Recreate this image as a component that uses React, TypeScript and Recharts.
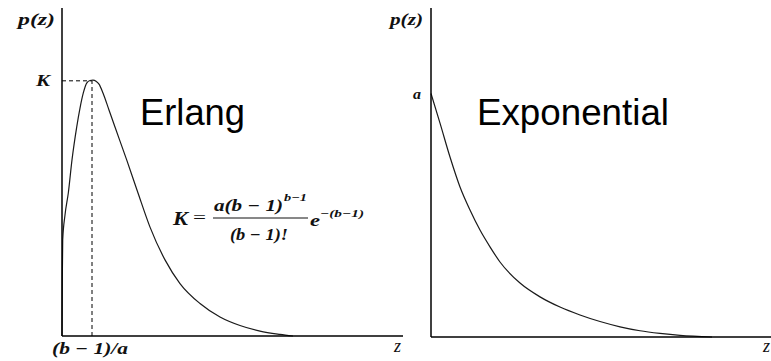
import { LineChart, Line, XAxis, YAxis, ReferenceLine } from 'recharts'

// Erlang curve (z in axis units 0..10, p in 0..1)
const erlangZ = [0, 0.009, 0.021, 0.088, 0.185, 0.293, 0.431, 0.528, 0.625, 0.724, 0.821, 0.909, 0.997, 1.085, 1.202, 1.378, 1.554, 1.897, 2.229, 2.581, 3.021, 3.460, 4.047, 4.633, 5.220, 5.806, 6.393, 6.774]
const erlangP = [0, 0.177, 0.293, 0.369, 0.436, 0.537, 0.637, 0.695, 0.741, 0.771, 0.779, 0.780, 0.777, 0.768, 0.741, 0.689, 0.637, 0.537, 0.436, 0.332, 0.232, 0.160, 0.099, 0.058, 0.032, 0.015, 0.005, 0]

// Exponential curve
const expoZ = [0, 0.265, 0.559, 0.853, 1.147, 1.441, 1.735, 2.029, 2.618, 3.206, 3.794, 4.382, 4.971, 5.559, 6.147, 6.735, 7.324, 8.265]
const expoP = [0.74, 0.650, 0.547, 0.456, 0.386, 0.325, 0.274, 0.228, 0.164, 0.122, 0.091, 0.067, 0.047, 0.031, 0.019, 0.011, 0.005, 0]

// marked levels
const K_LEVEL = 0.778
const PEAK_Z = 0.88
const A_LEVEL = 0.74

const erlangData = erlangZ.map((z, i) => ({ z, p: erlangP[i] }))
const expoData = expoZ.map((z, i) => ({ z, p: expoP[i] }))

const MATH = '"Liberation Serif", "DejaVu Serif", serif'
const SANS = '"Liberation Sans", Arial, sans-serif'
const AXIS = { stroke: '#000', strokeWidth: 1.5 }

function MathTick({ x, y, payload, label, anchor, size, width, dx = 0, dy }: any) {
  return (
    <text
      x={x + dx}
      y={y}
      dy={dy}
      textAnchor={anchor}
      fontFamily={MATH}
      fontStyle="italic"
      fontWeight="bold"
      fontSize={size}
      fill="#111"
      textLength={width}
      lengthAdjust="spacingAndGlyphs"
    >
      {label ?? payload.value}
    </text>
  )
}

export default function App() {
  return (
    <div style={{ position: 'absolute', left: 0, top: 0, width: 771, height: 361, background: '#fff' }}>

      {/* Erlang panel */}
      <div style={{ position: 'absolute', left: 0, top: 0 }}>
        <LineChart width={420} height={361} data={erlangData} margin={{ top: 8, right: 17, left: 61, bottom: 24 }}>
          <XAxis
            type="number"
            dataKey="z"
            domain={[0, 10]}
            ticks={[PEAK_Z]}
            height={1}
            tickLine={false}
            tickMargin={1}
            axisLine={AXIS}
            tick={<MathTick label="(b − 1)/a" anchor="middle" size={16} width={76} dx={-2} dy="0.71em" />}
          />
          <YAxis
            type="number"
            domain={[0, 1]}
            ticks={[K_LEVEL]}
            width={1}
            tickLine={false}
            tickMargin={6}
            axisLine={AXIS}
            tick={<MathTick label="K" anchor="end" size={16} width={14} dy="0.355em" />}
          />
          <ReferenceLine
            segment={[{ x: 0, y: K_LEVEL }, { x: PEAK_Z, y: K_LEVEL }]}
            stroke="#000"
            strokeWidth={1}
            strokeDasharray="4 3"
          />
          <ReferenceLine
            segment={[{ x: PEAK_Z, y: 0 }, { x: PEAK_Z, y: K_LEVEL }]}
            stroke="#000"
            strokeWidth={1}
            strokeDasharray="4 3"
          />
          <Line
            type="monotone"
            dataKey="p"
            stroke="#1a1a1a"
            strokeWidth={1.2}
            dot={false}
            isAnimationActive={false}
          />
        </LineChart>
      </div>

      {/* Exponential panel */}
      <div style={{ position: 'absolute', left: 405, top: 0 }}>
        <LineChart width={366} height={361} data={expoData} margin={{ top: 8, right: 0, left: 25, bottom: 23 }}>
          <XAxis
            type="number"
            dataKey="z"
            domain={[0, 10]}
            ticks={[]}
            height={1}
            tickLine={false}
            axisLine={AXIS}
          />
          <YAxis
            type="number"
            domain={[0, 1]}
            ticks={[A_LEVEL]}
            width={1}
            tickLine={false}
            tickMargin={4}
            axisLine={AXIS}
            tick={<MathTick label="a" anchor="end" size={15} width={8} dy="0.355em" />}
          />
          <Line
            type="monotone"
            dataKey="p"
            stroke="#1a1a1a"
            strokeWidth={1.2}
            dot={false}
            isAnimationActive={false}
          />
        </LineChart>
      </div>

      {/* titles, axis names and the K formula */}
      <svg width={771} height={361} style={{ position: 'absolute', left: 0, top: 0, pointerEvents: 'none' }}>
        <g fontFamily={MATH} fontStyle="italic" fontWeight="bold" fill="#111">
          <text x={18} y={25} fontSize={17} textLength={37} lengthAdjust="spacingAndGlyphs">p(z)</text>
          <text x={390} y={25} fontSize={17} textLength={33} lengthAdjust="spacingAndGlyphs">p(z)</text>
          <text x={394} y={352} fontSize={18} fontWeight="normal">z</text>
          <text x={763} y={352} fontSize={18} fontWeight="normal">z</text>
        </g>

        <g fontFamily={SANS} fontSize={36} fill="#000">
          <text x={140} y={125} textLength={105} lengthAdjust="spacingAndGlyphs">Erlang</text>
          <text x={477} y={125} textLength={192} lengthAdjust="spacingAndGlyphs">Exponential</text>
        </g>

        <g fontFamily={MATH} fill="#111" fontWeight="bold">
          <text x={173} y={225} fontSize={18} fontStyle="italic" textLength={15} lengthAdjust="spacingAndGlyphs">K</text>
          <text x={193} y={223} fontSize={17} fontWeight="normal" textLength={13} lengthAdjust="spacingAndGlyphs">=</text>
          <text x={214} y={211} fontSize={16} fontStyle="italic" textLength={69} lengthAdjust="spacingAndGlyphs">a(b − 1)</text>
          <text x={284} y={201} fontSize={11} fontStyle="italic" textLength={23} lengthAdjust="spacingAndGlyphs">b−1</text>
          <line x1={213} x2={308} y1={218} y2={218} stroke="#111" strokeWidth={1} />
          <text x={230} y={240} fontSize={16} fontStyle="italic" textLength={58} lengthAdjust="spacingAndGlyphs">(b − 1)!</text>
          <text x={310} y={226} fontSize={16} fontStyle="italic" textLength={10} lengthAdjust="spacingAndGlyphs">e</text>
          <text x={320} y={217} fontSize={11} fontStyle="italic" textLength={44} lengthAdjust="spacingAndGlyphs">−(b−1)</text>
        </g>
      </svg>
    </div>
  )
}
